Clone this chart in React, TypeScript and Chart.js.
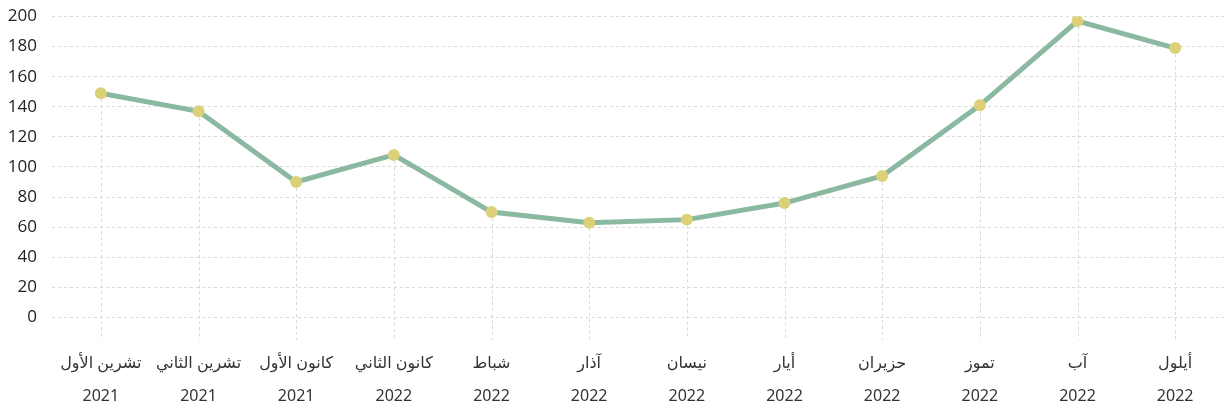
import React, { useEffect, useRef } from "react";
import { Chart, registerables } from "chart.js";

Chart.register(...registerables);

const months = [
  "تشرين الأول",
  "تشرين الثاني",
  "كانون الأول",
  "كانون الثاني",
  "شباط",
  "آذار",
  "نيسان",
  "أيار",
  "حزيران",
  "تموز",
  "آب",
  "أيلول",
];
const years = ["2021", "2021", "2021", "2022", "2022", "2022", "2022", "2022", "2022", "2022", "2022", "2022"];
const values = [149, 137, 90, 108, 70, 63, 65, 76, 94, 141, 197, 179];
const yTicks = [0, 20, 40, 60, 80, 100, 120, 140, 160, 180, 200];

const dropLines = {
  id: "dropLines",
  beforeDatasetsDraw(chart: any) {
    const { ctx, chartArea } = chart;
    const meta = chart.getDatasetMeta(0);
    ctx.save();
    ctx.strokeStyle = "#d9d9d9";
    ctx.lineWidth = 1;
    ctx.setLineDash([3, 3]);
    meta.data.forEach((pt: any) => {
      const x = Math.round(pt.x) + 0.5;
      ctx.beginPath();
      ctx.moveTo(x, pt.y);
      ctx.lineTo(x, chartArea.bottom);
      ctx.stroke();
    });
    ctx.restore();
  },
};

export default function App() {
  const ref = useRef<HTMLCanvasElement>(null);
  useEffect(() => {
    if (!ref.current) return;
    const chart = new Chart(ref.current, {
      type: "line",
      data: {
        labels: months.map((m, i) => [m, years[i]]),
        datasets: [
          {
            data: values,
            borderColor: "#8ab8a0",
            borderWidth: 5,
            pointBackgroundColor: "#dcd178",
            pointBorderColor: "#dcd178",
            pointBorderWidth: 0,
            pointRadius: 6,
            tension: 0,
          },
        ],
      },
      plugins: [dropLines],
      options: {
        animation: false,
        responsive: true,
        maintainAspectRatio: false,
        layout: { padding: 0 },
        plugins: { legend: { display: false }, tooltip: { enabled: false } },
        scales: {
          x: {
            offset: true,
            grid: { display: false, drawTicks: false },
            border: { display: false },
            afterFit: (scale: any) => {
              scale.height = 72;
            },
            ticks: {
              color: "#333",
              font: { family: "'Noto Sans', 'DejaVu Sans', sans-serif", size: 16, lineHeight: 2.06 },
              padding: 7,
              maxRotation: 0,
              autoSkip: false,
            },
          },
          y: {
            min: -15,
            max: 200,
            afterBuildTicks: (scale: any) => {
              scale.ticks = yTicks.map((v) => ({ value: v }));
            },
            afterFit: (scale: any) => {
              scale.width = 44;
            },
            grid: {
              color: "#d9d9d9",
              drawTicks: true,
              tickLength: 15,
              tickColor: "rgba(0,0,0,0)",
            },
            border: { display: false, dash: [3, 3] },
            ticks: {
              color: "#222",
              font: { family: "'Open Sans', sans-serif", size: 17, lineHeight: 1 },
              padding: 0,
            },
          },
        },
      },
    });
    return () => chart.destroy();
  }, []);
  return (
    <div style={{ width: 1222, height: 404, marginBottom: -8 }}>
      <canvas ref={ref} />
    </div>
  );
}
